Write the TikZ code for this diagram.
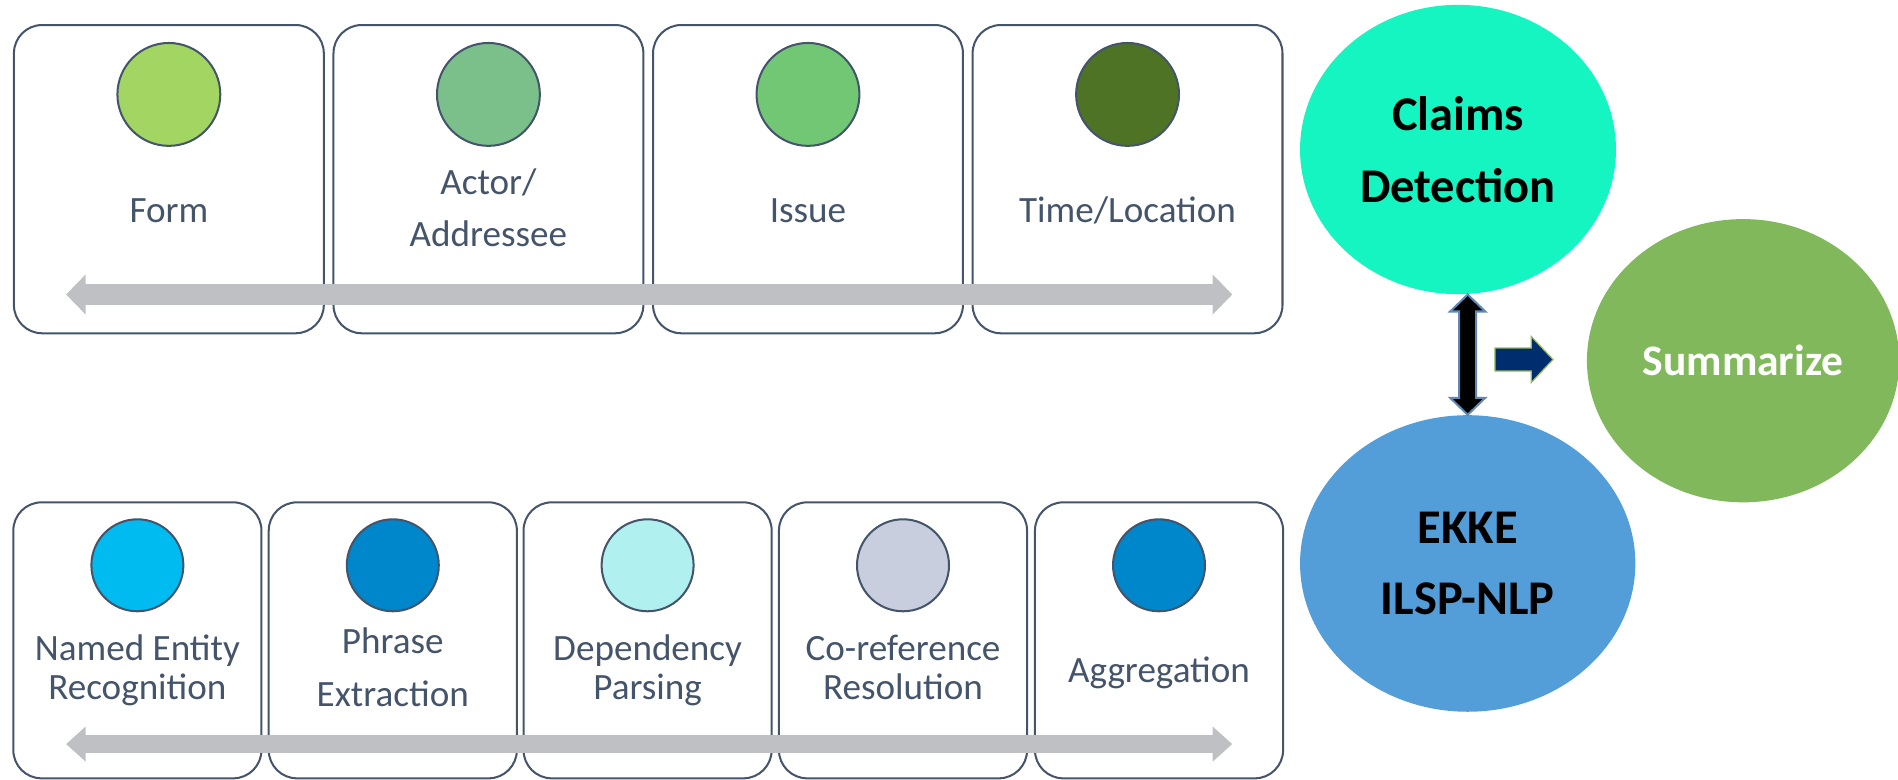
\documentclass[tikz,border=0pt]{standalone}
\usepackage{fontspec}
\setmainfont{Carlito}
\usepackage{xcolor}
\usetikzlibrary{shapes.geometric,arrows.meta,calc}
\definecolor{slate}{HTML}{44546A}
\definecolor{bargray}{HTML}{BFC0C4}
\definecolor{formc}{HTML}{A2D561}
\definecolor{actorc}{HTML}{7BBF8A}
\definecolor{issuec}{HTML}{71C774}
\definecolor{timec}{HTML}{4E7324}
\definecolor{nerc}{HTML}{00BBF0}
\definecolor{deepblue}{HTML}{0086CB}
\definecolor{depc}{HTML}{B0F0EF}
\definecolor{corefc}{HTML}{C9CEDE}
\definecolor{claimc}{HTML}{14F5C2}
\definecolor{ekkec}{HTML}{539ED8}
\definecolor{sumc}{HTML}{82B85C}
\definecolor{navy}{HTML}{002D6E}
\definecolor{navyrim}{HTML}{9BBB59}
\definecolor{dblrim}{HTML}{5F89B4}

\begin{document}
\begin{tikzpicture}[x=0.6pt,y=-0.6pt,
  topbox/.style={draw=slate,line width=1pt,rounded corners=14pt,minimum width=153.6pt,minimum height=152.8pt,inner sep=0pt},
  lowbox/.style={draw=slate,line width=1pt,rounded corners=14pt,minimum width=123pt,minimum height=136.8pt,inner sep=0pt},
  topdot/.style={circle,draw=slate,line width=1pt,minimum size=51pt,inner sep=0pt},
  lowdot/.style={circle,draw=slate,line width=1pt,minimum size=45.6pt,inner sep=0pt},
  lbl/.style={text=slate,align=center,anchor=base,inner sep=0pt,font=\fontsize{18.4}{19.2}\selectfont},
  blob/.style={ellipse,inner sep=0pt,align=center,font=\bfseries\fontsize{24}{35.4}\selectfont},
  bar/.style={draw=bargray,line width=#1}]
\useasboundingbox (0,0) rectangle (1568,644);

% upper row
\node[topbox] (form) at (139.5,148) {};
\node[topbox] (actor) at (403.5,148) {};
\node[topbox] (issue) at (667.5,148) {};
\node[topbox] (time) at (931.5,148) {};
\node[topdot,fill=formc] (formdot) at (139.5,78) {};
\node[topdot,fill=actorc] (actordot) at (403.5,78) {};
\node[topdot,fill=issuec] (issuedot) at (667.5,78) {};
\node[topdot,fill=timec] (timedot) at (931.5,78) {};
\node[lbl] (formtxt) at (139.5,184) {Form};
\node[lbl] (actortxt) at (403.5,204) {Actor/\\[7pt]Addressee};
\node[lbl] (issuetxt) at (667.5,184) {Issue};
\node[lbl] (timetxt) at (931.5,184) {Time/Location};
\coordinate (topL) at (54.6,243.3);
\coordinate (topR) at (1018,243.3);
\draw[bar=10.4pt,{Triangle[width=19.3pt,length=9.7pt]}-{Triangle[width=19.3pt,length=9.7pt]}] (topL) -- (topR);

% lower row
\node[lowbox] (ner) at (113.5,529) {};
\node[lowbox] (phrase) at (324.5,529) {};
\node[lowbox] (dep) at (535,529) {};
\node[lowbox] (coref) at (746,529) {};
\node[lowbox] (aggr) at (957.5,529) {};
\node[lowdot,fill=nerc] (nerdot) at (113.5,467) {};
\node[lowdot,fill=deepblue] (phrasedot) at (324.5,467) {};
\node[lowdot,fill=depc] (depdot) at (535,467) {};
\node[lowdot,fill=corefc] (corefdot) at (746,467) {};
\node[lowdot,fill=deepblue] (aggrdot) at (957.5,467) {};
\node[lbl] (nertxt) at (113.5,578) {Named Entity\\Recognition};
\node[lbl] (phrasetxt) at (324.5,583.8) {Phrase\\[7pt]Extraction};
\node[lbl] (deptxt) at (535,578) {Dependency\\Parsing};
\node[lbl] (coreftxt) at (746,578) {Co-reference\\Resolution};
\node[lbl] (aggrtxt) at (957.5,564) {Aggregation};
\coordinate (lowL) at (54.6,614.7);
\coordinate (lowR) at (1018,614.7);
\draw[bar=9pt,{Triangle[width=16.8pt,length=9.7pt]}-{Triangle[width=16.8pt,length=9.7pt]}] (lowL) -- (lowR);

% right side
\node[blob,fill=claimc,minimum width=156.6pt,minimum height=143.4pt] (claims) at (1204.5,123.5) {Claims\\Detection};
\node[blob,fill=ekkec,minimum width=166.2pt,minimum height=147pt] (ekke) at (1212.5,465.5) {EKKE\\ILSP-NLP};
\node[blob,fill=sumc,text=white,minimum width=154.8pt,minimum height=140.4pt,font=\bfseries\fontsize{21.6}{25}\selectfont] (summ) at (1440,298) {Summarize};

\coordinate (uptip) at (claims.south -| ekke.north);
\draw[fill=black,draw=dblrim,line width=1pt,line join=miter]
  (uptip) -- ++(14.5,14) -- ++(-7.5,0) -- ($(ekke.north)+(7,-14)$) -- ++(7.5,0)
  -- (ekke.north) -- ++(-14.5,-14) -- ++(7.5,0) -- ($(uptip)+(-7,14)$) -- ++(-7.5,0) -- cycle;

\coordinate (navytail) at (1235,297);
\draw[fill=navy,draw=navyrim,line width=0.6pt]
  (navytail) ++(0,-9.5) -- ++(30,0) -- ++(0,-9.5) -- ++(18,19) -- ++(-18,19) -- ++(0,-9.5) -- ++(-30,0) -- cycle;
\end{tikzpicture}
\end{document}
